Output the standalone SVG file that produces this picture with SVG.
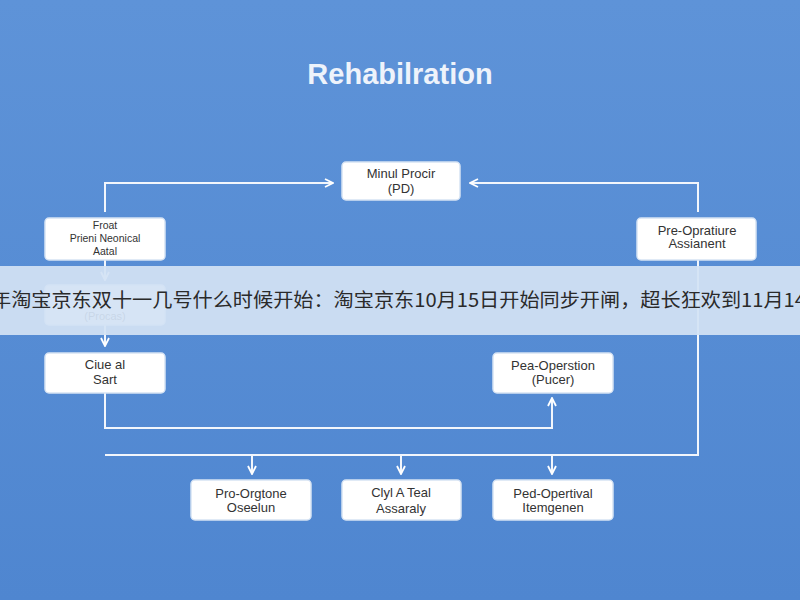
<svg xmlns="http://www.w3.org/2000/svg" width="800" height="600" viewBox="0 0 800 600">
<defs>
<marker id="ah" viewBox="0 0 10 10" refX="9" refY="5" markerWidth="5" markerHeight="5" orient="auto"><path d="M1,1 L9,5 L1,9" fill="none" stroke="#fff" stroke-width="1.8"/></marker>
<linearGradient id="bg" x1="0" y1="0" x2="0" y2="1"><stop offset="0" stop-color="#5e93d8"/><stop offset="1" stop-color="#4f86d0"/></linearGradient>
</defs>
<style>
.n rect{fill:#fff;stroke:#d6e3f3;stroke-width:1.5}
.n text{font-family:"Liberation Sans",Arial,sans-serif;font-size:13px;fill:#333;text-anchor:middle}
.c path{fill:none;stroke:#f2f6fc;stroke-width:2;marker-end:url(#ah)}
.c path.p{marker-end:none}
</style>
<rect width="800" height="600" fill="url(#bg)"/>
<text x="400" y="84" font-family="Liberation Sans,Arial,sans-serif" font-size="29" font-weight="bold" fill="#eef3fb" text-anchor="middle">Rehabilration</text>
<g class="c">
<path d="M105,212 V183 H333"/>
<path d="M698,212 V183 H470"/>
<path d="M105,260 V280"/>
<path d="M105,325 V346"/>
<path d="M105,393 V428 H552 V398"/>
<path class="p" d="M698,260 V455 H105"/>
<path d="M252,455 V474"/>
<path d="M401,455 V474"/>
<path d="M552,455 V474"/>
</g>
<g class="n" id="manual"><rect x="342" y="162" width="118" height="38" rx="4"/><text x="401" y="178">Minul Procir</text><text x="401" y="193">(PD)</text></g>
<g class="n" id="front"><rect x="45" y="218" width="120" height="42" rx="4"/><text x="105" y="229" style="font-size:10.5px">Froat</text><text x="105" y="242" style="font-size:10.5px">Prieni Neonical</text><text x="105" y="255" style="font-size:10.5px">Aatal</text></g>
<g class="n" id="proc"><rect x="45" y="285" width="120" height="40" rx="4"/><text x="105" y="320" style="font-size:11px">(Procas)</text></g>
<g class="n" id="clue"><rect x="45" y="353" width="120" height="40" rx="4"/><text x="105" y="369">Ciue al</text><text x="105" y="384">Sart</text></g>
<g class="n" id="preop"><rect x="637" y="218" width="119" height="42" rx="4"/><text x="697" y="235">Pre-Opratiure</text><text x="697" y="248">Assianent</text></g>
<g class="n" id="pea"><rect x="493" y="353" width="120" height="40" rx="4"/><text x="553" y="370">Pea-Operstion</text><text x="553" y="384">(Pucer)</text></g>
<g class="n" id="pro"><rect x="191" y="480" width="120" height="40" rx="4"/><text x="251" y="498">Pro-Orgtone</text><text x="251" y="512">Oseelun</text></g>
<g class="n" id="clyl"><rect x="342" y="480" width="119" height="40" rx="4"/><text x="401" y="497">Clyl A Teal</text><text x="401" y="513">Assaraly</text></g>
<g class="n" id="ped"><rect x="493" y="480" width="120" height="40" rx="4"/><text x="553" y="498">Ped-Opertival</text><text x="553" y="512">Itemgenen</text></g>
<rect x="0" y="266" width="800" height="69" fill="#d3e2f4" opacity="0.93"/>
<text x="-9" y="307" font-family="Noto Sans CJK SC,sans-serif" font-size="19" fill="#2a2a2a" textLength="815" lengthAdjust="spacingAndGlyphs">年淘宝京东双十一几号什么时候开始：淘宝京东10月15日开始同步开闸，超长狂欢到11月14</text>
</svg>
